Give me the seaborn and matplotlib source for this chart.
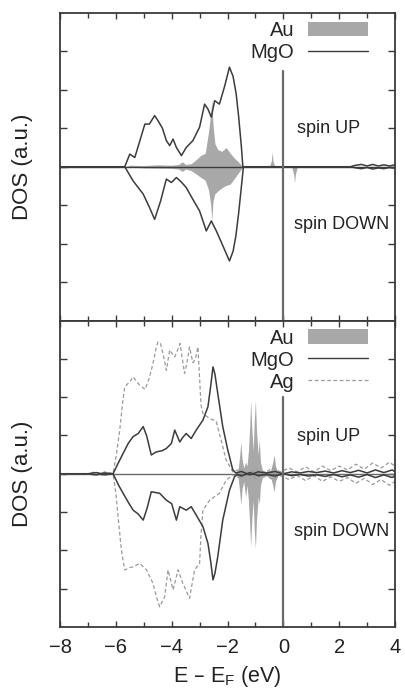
import matplotlib
matplotlib.use("Agg")
import matplotlib.pyplot as plt
import seaborn as sns
from matplotlib.lines import Line2D
from matplotlib.patches import Patch

# ---------------- data ----------------
# Top panel: Au on MgO
mgo1_up_E = [-8, -5.68, -5.5, -5.32, -4.96, -4.8, -4.61, -4.49, -4.33, -4.19, -4.07, -3.95, -3.83,
             -3.65, -3.48, -3.24, -3.0, -2.82, -2.7, -2.58, -2.46, -2.29, -2.1, -1.93, -1.8, -1.69,
             -1.6, -1.5, -1.45, 2.4, 2.6, 2.8, 3.0, 3.2, 3.4, 3.6, 3.8, 4.0]
mgo1_up = [0, 0, 0.33, 0.24, 1.11, 1.11, 1.33, 1.2, 1.0, 0.68, 0.55, 0.72, 0.5,
           0.29, 0.5, 0.68, 1.03, 1.63, 1.5, 1.29, 1.72, 1.63, 2.1, 2.59, 2.35, 1.9,
           1.3, 0.5, 0.0, 0, 0.04, 0.06, 0.02, 0.06, 0.02, 0.05, 0.02, 0.05]
mgo1_dn_E = [-8, -5.68, -5.38, -5.02, -4.8, -4.61, -4.4, -4.19, -4.01, -3.83, -3.65, -3.48, -3.24,
             -3.0, -2.76, -2.58, -2.4, -2.2, -1.93, -1.8, -1.7, -1.6, -1.5, -1.43, 2.4, 2.6, 2.8,
             3.0, 3.2, 3.4, 3.6, 3.8, 4.0]
mgo1_dn = [0, 0, -0.37, -0.71, -1.05, -1.37, -0.9, -0.32, -0.41, -0.28, -0.4, -0.54, -0.85,
           -1.15, -1.67, -1.41, -1.67, -2.0, -2.45, -2.2, -1.8, -1.2, -0.5, 0, 0, -0.03, -0.05,
           -0.02, -0.06, -0.03, -0.05, -0.02, -0.04]
au1_up_E = [-5.7, -5.5, -5.0, -4.5, -4.0, -3.75, -3.62, -3.5, -3.3, -3.1, -2.95, -2.8, -2.68,
            -2.6, -2.56, -2.52, -2.45, -2.35, -2.2, -2.05, -1.9, -1.75, -1.6, -1.45,
            -0.5, -0.43, -0.4, -0.37, -0.3]
au1_up = [0, 0.04, 0.03, 0.05, 0.04, 0.06, 0.13, 0.06, 0.08, 0.2, 0.3, 0.35, 0.9,
          1.4, 1.75, 1.1, 0.6, 0.45, 0.4, 0.5, 0.35, 0.22, 0.12, 0,
          0, 0.15, 0.38, 0.15, 0]
au1_dn_E = [-5.7, -5.0, -4.0, -3.75, -3.62, -3.5, -3.3, -3.1, -2.95, -2.8, -2.68, -2.6, -2.56,
            -2.52, -2.45, -2.3, -2.1, -1.9, -1.75, -1.6, -1.45, 0.3, 0.37, 0.4, 0.43, 0.5]
au1_dn = [0, -0.03, -0.04, -0.06, -0.12, -0.06, -0.1, -0.2, -0.28, -0.35, -0.6, -1.0, -1.4,
          -0.9, -0.7, -0.6, -0.5, -0.45, -0.3, -0.15, 0, 0, -0.2, -0.42, -0.2, 0]

# Bottom panel: Au on MgO/Ag
mgo2_up_E = [-8, -7.0, -6.7, -6.4, -6.1, -5.9, -5.74, -5.55, -5.38, -5.2, -5.02, -4.9, -4.73, -4.55,
             -4.35, -4.19, -4.01, -3.89, -3.71, -3.6, -3.48, -3.3, -3.12, -2.88, -2.7, -2.6,
             -2.52, -2.45, -2.35, -2.17, -1.99, -1.81, -1.7, -1.5, -1.2, -0.9, -0.6, -0.3, 0.0,
             0.3, 0.6, 0.9, 1.2, 1.5, 1.8, 2.1, 2.4, 2.7, 3.0, 3.3, 3.6, 3.9, 4.0]
mgo2_up = [0, 0, 0.03, -0.02, 0, 0.3, 0.53, 0.8, 0.97, 1.05, 1.23, 1.0, 0.49, 0.57,
           0.6, 0.66, 0.79, 1.14, 0.83, 0.95, 1.05, 0.92, 1.14, 1.4, 1.75, 2.3,
           2.79, 2.6, 2.1, 1.23, 0.62, 0.1, 0.02, 0.06, -0.03, 0.05, 0.02, 0.06, 0.0,
           0.05, 0.02, 0.06, 0.03, 0.07, 0.02, 0.08, 0.03, 0.09, 0.02, 0.1, 0.03, 0.1, 0.05]
mgo2_dn_E = [-8, -7.0, -6.7, -6.4, -6.1, -5.9, -5.74, -5.55, -5.38, -5.2, -5.02, -4.88, -4.73,
             -4.43, -4.19, -4.0, -3.83, -3.71, -3.48, -3.3, -3.12, -2.88, -2.7, -2.6, -2.52,
             -2.45, -2.35, -2.17, -1.93, -1.75, -1.65, -1.5, -1.2, -0.9, -0.6, -0.3, 0.0, 0.3,
             0.6, 0.9, 1.2, 1.5, 1.8, 2.1, 2.4, 2.7, 3.0, 3.3, 3.6, 3.9, 4.0]
mgo2_dn = [0, 0, -0.03, 0.02, 0, -0.3, -0.51, -0.75, -0.95, -1.05, -1.21, -0.9, -0.47,
           -0.51, -0.69, -0.78, -1.21, -0.86, -0.95, -0.86, -1.08, -1.38, -1.82, -2.3, -2.77,
           -2.6, -2.17, -1.21, -0.43, -0.08, -0.02, -0.06, 0.03, -0.05, -0.02, -0.06, 0.0, -0.05,
           -0.02, -0.06, -0.03, -0.07, -0.02, -0.08, -0.03, -0.09, -0.02, -0.1, -0.03, -0.1, -0.05]
ag_up_E = [-8, -7.0, -6.8, -6.6, -6.4, -6.2, -6.1, -5.98, -5.86, -5.75, -5.68, -5.5, -5.38, -5.25,
           -5.14, -4.95, -4.8, -4.67, -4.55, -4.49, -4.4, -4.3, -4.19, -4.07, -3.95, -3.89,
           -3.75, -3.7, -3.54, -3.45, -3.36, -3.24, -3.15, -3.06, -3.0, -2.95, -2.88, -2.75,
           -2.64, -2.5, -2.4, -2.23, -2.05, -1.81, -1.6, -1.3, -1.0, -0.7, -0.4, -0.1, 0.2,
           0.5, 0.8, 1.1, 1.4, 1.7, 2.0, 2.3, 2.6, 2.9, 3.2, 3.5, 3.8, 4.0]
ag_up = [0, 0, 0.04, -0.02, 0.05, 0.02, 0, 0.5, 1.14, 1.9, 2.27, 2.4, 2.53, 2.4,
         2.31, 2.2, 2.5, 2.88, 3.3, 3.44, 3.4, 3.1, 2.70, 3.23, 3.1, 3.05,
         3.3, 3.4, 2.62, 2.9, 3.31, 2.9, 3.0, 3.31, 2.5, 1.8, 1.57, 1.5,
         1.44, 1.4, 1.36, 0.88, 0.36, 0.05, 0.1, -0.05, 0.12, 0.0, 0.15, 0.05, 0.15,
         0.05, 0.18, 0.05, 0.2, 0.08, 0.2, 0.1, 0.25, 0.12, 0.28, 0.15, 0.3, 0.2]
ag_dn_E = [-8, -7.0, -6.8, -6.6, -6.4, -6.2, -6.1, -6.0, -5.92, -5.8, -5.68, -5.5, -5.38, -5.14,
           -4.9, -4.67, -4.55, -4.43, -4.25, -4.13, -3.95, -3.77, -3.6, -3.45, -3.36, -3.18,
           -3.0, -2.95, -2.88, -2.64, -2.29, -2.05, -1.81, -1.6, -1.3, -1.0, -0.7, -0.4, -0.1,
           0.2, 0.5, 0.8, 1.1, 1.4, 1.7, 2.0, 2.3, 2.6, 2.9, 3.2, 3.5, 3.8, 4.0]
ag_dn = [0, 0, -0.03, 0.02, -0.04, -0.02, 0, -0.5, -1.12, -2.0, -2.51, -2.45, -2.43, -2.34,
         -2.51, -2.86, -3.2, -3.47, -3.21, -2.51, -3.03, -2.51, -2.86, -3.1, -3.25, -2.51,
         -2.34, -1.6, -0.95, -0.69, -0.51, -0.17, -0.03, -0.1, 0.05, -0.12, 0.0, -0.15, -0.05,
         -0.15, -0.05, -0.18, -0.05, -0.2, -0.08, -0.2, -0.1, -0.25, -0.12, -0.28, -0.15, -0.3, -0.2]
au2_up_E = [-6.7, -6.5, -6.3, -6.1, -1.75, -1.62, -1.56, -1.52, -1.48, -1.42, -1.35, -1.3, -1.25,
            -1.2, -1.17, -1.13, -1.08, -1.04, -1.0, -0.96, -0.9, -0.86, -0.82, -0.75, -0.6,
            -0.45, -0.38, -0.33, -0.28, -0.2, 0.0]
au2_up = [0, 0.06, 0.04, 0, 0, 0.1, 0.5, 0.84, 0.4, 0.15, 0.3, 0.2, 0.6,
          1.3, 1.92, 1.2, 0.6, 1.4, 1.92, 1.1, 0.5, 0.9, 0.3, 0.1, 0.05,
          0.1, 0.3, 0.5, 0.2, 0.05, 0]
au2_dn_E = [-6.7, -6.5, -6.3, -6.1, -1.75, -1.62, -1.56, -1.52, -1.48, -1.42, -1.35, -1.3, -1.25,
            -1.2, -1.17, -1.13, -1.08, -1.04, -1.0, -0.96, -0.9, -0.86, -0.82, -0.75, -0.6,
            -0.45, -0.38, -0.33, -0.28, -0.2, 0.0]
au2_dn = [0, -0.05, -0.03, 0, 0, -0.1, -0.5, -0.81, -0.4, -0.2, -0.6, -0.3, -0.7,
          -1.4, -1.9, -1.2, -0.7, -1.5, -1.95, -1.2, -0.6, -0.8, -0.3, -0.1, -0.05,
          -0.1, -0.3, -0.47, -0.2, -0.05, 0]

# Fermi-level marker extents (top / bottom panel) and axis settings
fermi_top = [-4, 2.5]
fermi_bot = [-4, 2.0]
x_ticks = [-8, -6, -4, -2, 0, 2, 4]
x_minor = [-7, -5, -3, -1, 1, 3]
y_ticks = [-3, -2, -1, 0, 1, 2, 3]
legend_top = ["Au", "MgO"]
legend_bot = ["Au", "MgO", "Ag"]
spin_labels = ["spin UP", "spin DOWN"]

# ---------------- style ----------------
sns.set_theme(style="ticks")
plt.rcParams["font.family"] = ["Liberation Sans", "DejaVu Sans"]
plt.rcParams["axes.edgecolor"] = "#3a3a3a"
plt.rcParams["axes.linewidth"] = 1.3

C_MGO = "#3c3c3c"
C_AU = "#a8a8a8"
C_AG = "#9a9a9a"
C_FERMI = "#6a6a6a"
C_TXT = "#222222"
LEG_FS = 14.5
SPIN_FS = 13

fig = plt.figure(figsize=(4.05, 6.92), dpi=100)
ax1 = fig.add_axes([60 / 405, 1 - 320.5 / 692, 335 / 405, 307.5 / 692])
ax2 = fig.add_axes([60 / 405, 1 - 627 / 692, 335 / 405, 306.5 / 692], sharex=ax1)


def style_axes(ax):
    ax.set_xlim(-8, 4)
    ax.set_ylim(-4, 4)
    ax.set_xticks(x_ticks)
    ax.set_xticks(x_minor, minor=True)
    ax.set_yticks(y_ticks)
    ax.tick_params(axis="both", which="both", direction="in", top=True, right=True,
                   color="#3a3a3a")
    ax.tick_params(axis="x", which="major", length=4, width=1.0)
    ax.tick_params(axis="x", which="minor", length=3.5, width=1.0)
    ax.tick_params(axis="y", which="major", length=5, width=1.0, labelleft=False)
    ax.set_ylabel("DOS (a.u.)", fontsize=16, color=C_TXT)
    ax.yaxis.set_label_coords(-0.082, 0.5)
    for s in ax.spines.values():
        s.set_visible(True)


def line(ax, x, y, **kw):
    sns.lineplot(x=x, y=y, ax=ax, estimator=None, sort=False, legend=False, **kw)


def add_legend(ax, handles, labels, h):
    ax.legend(handles, labels, loc="upper right", markerfirst=False, frameon=False,
              fontsize=LEG_FS, handlelength=3.0, handletextpad=0.65, labelspacing=0.15,
              borderpad=0, borderaxespad=0,
              bbox_to_anchor=(1 - 27 / 335, 1 - 8 / h))


# ---- top panel ----
ax1.fill_between(au1_up_E, 0, au1_up, color=C_AU, lw=0)
ax1.fill_between(au1_dn_E, 0, au1_dn, color=C_AU, lw=0)
ax1.axhline(0, color=C_MGO, lw=1.0, zorder=1)
line(ax1, mgo1_up_E, mgo1_up, color=C_MGO, lw=1.1)
line(ax1, mgo1_dn_E, mgo1_dn, color=C_MGO, lw=1.1)
ax1.plot([0, 0], fermi_top, color=C_FERMI, lw=1.6)
style_axes(ax1)
ax1.tick_params(axis="x", labelbottom=False)

h1 = [Patch(facecolor=C_AU, edgecolor="none"),
      Line2D([], [], color=C_MGO, lw=1.0)]
add_legend(ax1, h1, legend_top, 307.5)
ax1.text(0.5, 1.0, spin_labels[0], fontsize=SPIN_FS, va="center", ha="left", color=C_TXT)
ax1.text(0.4, -1.5, spin_labels[1], fontsize=SPIN_FS, va="center", ha="left", color=C_TXT)

# ---- bottom panel ----
ax2.fill_between(au2_up_E, 0, au2_up, color=C_AU, lw=0)
ax2.fill_between(au2_dn_E, 0, au2_dn, color=C_AU, lw=0)
ax2.axhline(0, color="#6a6a6a", lw=1.0, zorder=1)
line(ax2, ag_up_E, ag_up, color=C_AG, lw=0.9, dashes=(3, 2))
line(ax2, ag_dn_E, ag_dn, color=C_AG, lw=0.9, dashes=(3, 2))
line(ax2, mgo2_up_E, mgo2_up, color=C_MGO, lw=1.1)
line(ax2, mgo2_dn_E, mgo2_dn, color=C_MGO, lw=1.1)
ax2.plot([0, 0], fermi_bot, color=C_FERMI, lw=1.6)
style_axes(ax2)
ax2.tick_params(axis="x", labelsize=14.5, pad=8, labelcolor=C_TXT)
ax2.set_xlabel("E – E$\\mathregular{_F}$ (eV)", fontsize=15.5, labelpad=5, color=C_TXT)

h2 = [Patch(facecolor=C_AU, edgecolor="none"),
      Line2D([], [], color=C_MGO, lw=1.0),
      Line2D([], [], color=C_AG, lw=0.9, dashes=(3, 2))]
add_legend(ax2, h2, legend_bot, 306.5)
ax2.text(0.5, 0.97, spin_labels[0], fontsize=SPIN_FS, va="center", ha="left", color=C_TXT)
ax2.text(0.4, -1.5, spin_labels[1], fontsize=SPIN_FS, va="center", ha="left", color=C_TXT)

fig.savefig("out.png", dpi=100)
